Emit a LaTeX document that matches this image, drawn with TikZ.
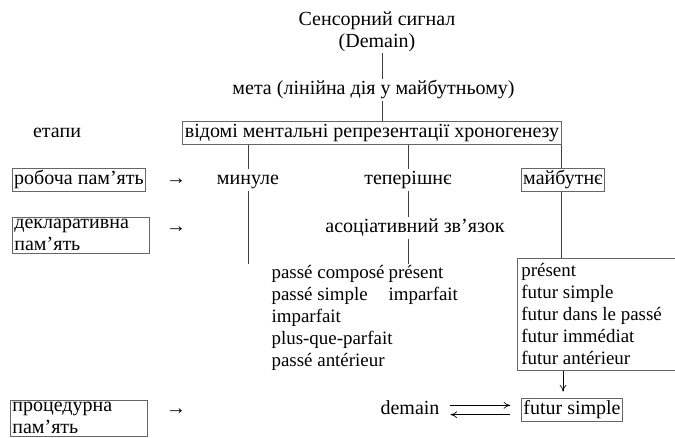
\documentclass[tikz,border=0pt]{standalone}
\usepackage{fontspec}
\setmainfont{Liberation Serif}
\usetikzlibrary{arrows.meta,positioning}

\begin{document}
\begin{tikzpicture}[
    x=0.75pt, y=-0.75pt,
    font=\fontsize{15}{16.5}\selectfont,
    txt/.style={inner sep=1pt, text height=10.5pt, text depth=3.5pt},
    box/.style={draw=black!60, line width=0.6pt, inner sep=1.5pt},
    lst/.style={align=flush left, inner sep=1pt, anchor=north west, font=\fontsize{14.2}{16.5}\selectfont},
    ln/.style={draw=black!75, line width=0.6pt},
    arr/.style={-{To[length=5pt,width=5pt]}, line width=0.5pt}
]
\useasboundingbox (0,0) rectangle (675,437);
\clip (0,0) rectangle (675,437);

% top of the tree
\node[inner sep=1pt, align=center] (signal) at (377,31.5) {Сенсорний сигнал\\(Demain)};
\node[txt] (goal) at (373.5,90) {мета (лінійна дія у майбутньому)};
\node[txt] (stages) at (57,133) {етапи};
\node[box, txt, inner sep=1.5pt] (known) at (372,133) {відомі ментальні репрезентації хроногенезу};

% time levels
\node[box, txt, inner sep=1.5pt] (work) at (79,180) {робоча пам’ять};
\node[txt] (arrwork) at (176,180) {→};
\node[txt] (past) at (248,180) {минуле};
\node[txt] (present) at (408,180) {теперішнє};
\node[box, txt, inner sep=1.5pt] (future) at (563,180) {майбутнє};

\node[box, align=flush left, text width=100pt, anchor=north west] (decl) at (12,217) {декларативна\\пам’ять};
\node[txt] (arrdecl) at (176,228) {→};
\node[txt] (assoc) at (415,228) {асоціативний зв’язок};

% tense lists
\node[lst] (pastlist) at (270,264) {passé composé\\passé simple\\imparfait\\plus-que-parfait\\passé antérieur};
\node[lst] (preslist) at (387,264) {présent\\imparfait};
\node[box, lst, inner xsep=3pt, inner ysep=4pt, text width=200pt] (futlist) at (517,258) {présent\\futur simple\\futur dans le passé\\futur immédiat\\futur antérieur};

% bottom row
\node[box, align=flush left, text width=100pt, anchor=north west] (proc) at (10,400) {процедурна\\пам’ять};
\node[txt] (arrproc) at (176,410) {→};
\node[txt] (demain) at (410,410) {demain};
\node[box, txt, inner sep=1.5pt] (fsimple) at (572,410) {futur simple};

% tree lines
\draw[ln] (signal.south) ++(5,0) coordinate (top) -- (top |- goal.north);
\draw[ln] (goal.south -| top) -- (known.north -| top);
\draw[ln] (known.south -| past.north) -- (past.north);
\draw[ln] (known.south -| present.north) -- (present.north);
\draw[ln] (known.south east) -- (known.south east |- future.north);
\draw[ln] (past.south) -- (past.south |- pastlist.north);
\draw[ln] (present.south) -- (assoc.north -| present.south);
\draw[ln] (assoc.south -| present.south) -- (present.south |- preslist.north);
\draw[ln] (future.south -| known.south east) -- (futlist.north -| known.south east);

% arrows
\draw[arr, shorten >=5pt] (futlist.south -| future.south) -- (fsimple.north -| future.south);
\draw[arr] ([xshift=7pt,yshift=3.5pt]demain.east) -- ([xshift=-8pt,yshift=3.5pt]fsimple.west);
\draw[arr] ([xshift=-8pt,yshift=-3.5pt]fsimple.west) -- ([xshift=7pt,yshift=-3.5pt]demain.east);
\end{tikzpicture}
\end{document}
